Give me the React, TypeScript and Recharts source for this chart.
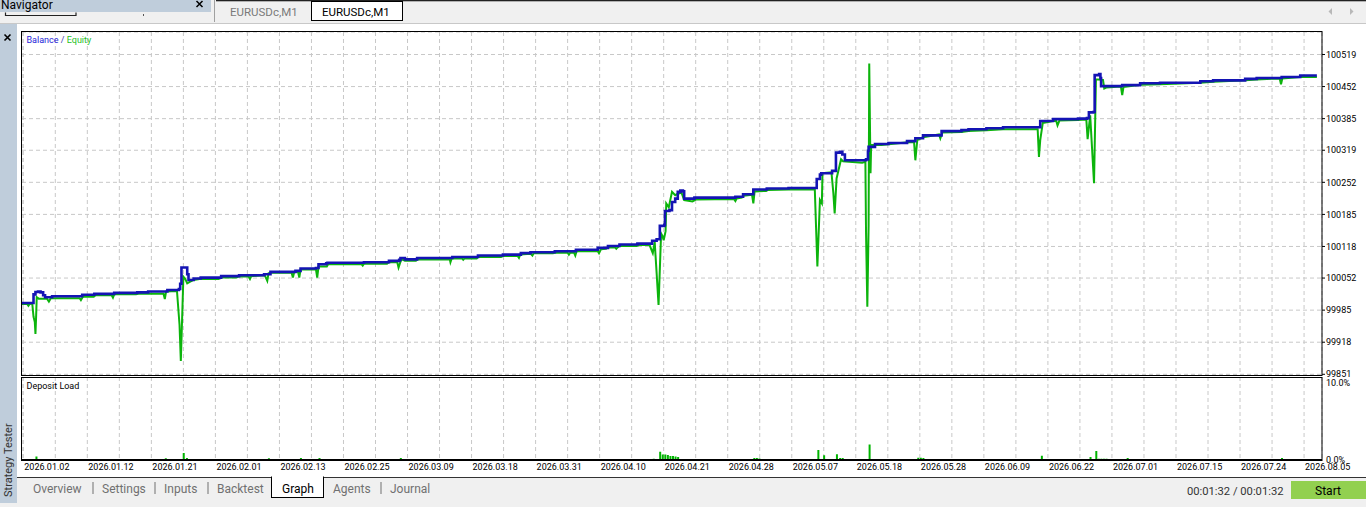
import React from 'react';
import { LineChart, Line, BarChart, Bar, XAxis, YAxis, CartesianGrid } from 'recharts';

// x values are in "date label" units: label k of the time axis sits at x = k
const dateLabels = [
  '2026.01.02', '2026.01.12', '2026.01.21', '2026.02.01', '2026.02.13', '2026.02.25', '2026.03.09',
  '2026.03.18', '2026.03.31', '2026.04.10', '2026.04.21', '2026.04.28', '2026.05.07', '2026.05.18',
  '2026.05.28', '2026.06.09', '2026.06.22', '2026.07.01', '2026.07.15', '2026.07.24', '2026.08.05',
];
const X_MIN = -0.02;
const X_MAX = 20.28;

const balanceTicks = [99851, 99918, 99985, 100052, 100118, 100185, 100252, 100319, 100385, 100452, 100519];
const balanceDomain = [99849.5, 100566];
const loadTicks = [0, 10];
const loadDomain = [0, 10.7];

const balancePts: [number, number][] = [
  [-0.02, 100000], [0.14, 100000], [0.16, 100018], [0.19, 100023], [0.23, 100024], [0.27, 100022], [0.31, 100016],
  [0.34, 100012], [0.42, 100012], [0.45, 100014], [0.89, 100014], [0.92, 100017], [1.08, 100017], [1.11, 100019],
  [1.39, 100019], [1.42, 100021], [1.75, 100021], [1.78, 100022], [1.92, 100022], [1.95, 100024], [2.22, 100024],
  [2.25, 100027], [2.40, 100027], [2.43, 100029], [2.45, 100040], [2.47, 100074], [2.54, 100074], [2.56, 100060],
  [2.58, 100048], [2.64, 100048], [2.66, 100051], [2.75, 100051], [2.77, 100053], [3.06, 100053], [3.09, 100056],
  [3.34, 100056], [3.37, 100058], [3.73, 100058], [3.76, 100060], [3.84, 100060], [3.86, 100065], [4.23, 100065],
  [4.25, 100067], [4.31, 100067], [4.33, 100072], [4.57, 100073], [4.61, 100081], [4.73, 100083], [4.75, 100084],
  [5.29, 100084], [5.32, 100085], [5.68, 100085], [5.71, 100088], [5.85, 100088], [5.87, 100090], [5.89, 100094],
  [5.93, 100094], [5.96, 100091], [6.13, 100091], [6.15, 100094], [6.67, 100094], [6.70, 100096], [7.08, 100096],
  [7.10, 100099], [7.46, 100099], [7.49, 100101], [7.74, 100101], [7.77, 100104], [7.90, 100104], [7.92, 100106],
  [8.27, 100106], [8.30, 100108], [8.60, 100108], [8.63, 100111], [8.95, 100111], [8.97, 100115], [9.10, 100115],
  [9.13, 100119], [9.28, 100119], [9.31, 100122], [9.57, 100122], [9.59, 100124], [9.79, 100124], [9.82, 100130],
  [9.89, 100133], [9.92, 100133], [9.94, 100161], [10.01, 100163], [10.02, 100192], [10.09, 100194], [10.13, 100211],
  [10.18, 100218], [10.22, 100232], [10.26, 100235], [10.30, 100233], [10.32, 100218], [10.46, 100218], [10.48, 100220],
  [11.12, 100222], [11.24, 100227], [11.40, 100237], [11.61, 100239], [11.95, 100240], [12.37, 100240], [12.39, 100259],
  [12.44, 100268], [12.46, 100271], [12.63, 100276], [12.66, 100276], [12.69, 100314], [12.75, 100316], [12.79, 100310],
  [12.83, 100298], [13.16, 100300], [13.19, 100318], [13.20, 100326], [13.30, 100332], [13.51, 100334], [13.80, 100338],
  [13.93, 100344], [14.05, 100350], [14.34, 100359], [14.65, 100361], [14.76, 100363], [15.04, 100365], [15.30, 100367],
  [15.85, 100367], [15.88, 100380], [16.08, 100384], [16.47, 100385], [16.61, 100386], [16.64, 100398], [16.71, 100399],
  [16.73, 100476], [16.80, 100478], [16.82, 100470], [16.83, 100453], [16.92, 100453], [17.16, 100455], [17.44, 100459],
  [17.75, 100460], [18.38, 100463], [18.58, 100465], [19.08, 100468], [19.26, 100470], [19.65, 100472], [19.94, 100475],
  [20.20, 100475],
];

const equityPts: [number, number][] = [
  [-0.02, 99998], [0.06, 99998], [0.08, 99994], [0.10, 99998], [0.14, 99999], [0.15, 99985], [0.16, 99971],
  [0.18, 99960], [0.19, 99935], [0.20, 99970], [0.21, 100012], [0.24, 100009], [0.37, 100009], [0.40, 100003],
  [0.43, 100010], [0.88, 100010], [0.90, 100006], [0.93, 100013], [1.10, 100013], [1.13, 100016], [1.38, 100016],
  [1.40, 100011], [1.42, 100018], [1.76, 100018], [1.79, 100019], [2.19, 100019], [2.21, 100008], [2.23, 100024],
  [2.40, 100025], [2.44, 99954], [2.46, 99879], [2.48, 99966], [2.50, 100055], [2.53, 100050], [2.56, 100041],
  [2.60, 100044], [2.66, 100048], [2.75, 100050], [3.05, 100050], [3.10, 100053], [3.33, 100053], [3.36, 100055],
  [3.52, 100055], [3.54, 100050], [3.56, 100056], [3.77, 100058], [3.81, 100046], [3.83, 100062], [3.86, 100063],
  [4.19, 100063], [4.21, 100053], [4.23, 100064], [4.29, 100065], [4.31, 100053], [4.33, 100070], [4.57, 100070],
  [4.59, 100053], [4.61, 100076], [4.74, 100076], [4.76, 100081], [5.28, 100081], [5.30, 100078], [5.32, 100082],
  [5.68, 100082], [5.71, 100085], [5.84, 100085], [5.86, 100074], [5.88, 100082], [5.90, 100090], [5.93, 100090],
  [5.96, 100088], [6.13, 100088], [6.16, 100091], [6.66, 100091], [6.67, 100085], [6.69, 100093], [6.85, 100093],
  [6.87, 100090], [6.89, 100093], [7.08, 100093], [7.10, 100096], [7.46, 100096], [7.49, 100098], [7.72, 100098],
  [7.74, 100094], [7.76, 100101], [7.92, 100103], [7.95, 100099], [7.97, 100104], [8.27, 100104], [8.30, 100105],
  [8.50, 100105], [8.52, 100101], [8.54, 100105], [8.60, 100105], [8.62, 100099], [8.64, 100108], [8.97, 100108],
  [8.99, 100104], [9.02, 100112], [9.10, 100113], [9.13, 100116], [9.24, 100116], [9.26, 100113], [9.28, 100116],
  [9.31, 100119], [9.58, 100119], [9.61, 100121], [9.78, 100121], [9.83, 100104], [9.86, 100127], [9.89, 100062],
  [9.92, 99996], [9.96, 100145], [9.98, 100140], [10.00, 100131], [10.03, 100150], [10.04, 100208], [10.08, 100200],
  [10.13, 100232], [10.18, 100225], [10.22, 100228], [10.28, 100230], [10.32, 100215], [10.45, 100212], [10.50, 100216],
  [11.10, 100217], [11.12, 100213], [11.14, 100218], [11.22, 100220], [11.25, 100224], [11.38, 100226], [11.40, 100208],
  [11.42, 100233], [11.60, 100234], [11.63, 100236], [11.95, 100237], [12.36, 100237], [12.38, 100156], [12.40, 100076],
  [12.44, 100215], [12.47, 100208], [12.48, 100271], [12.62, 100273], [12.65, 100229], [12.67, 100187], [12.70, 100260],
  [12.77, 100300], [12.80, 100296], [13.10, 100293], [13.15, 100295], [13.16, 100145], [13.18, 99992], [13.20, 100160],
  [13.21, 100500], [13.23, 100271], [13.24, 100330], [13.40, 100330], [13.55, 100332], [13.78, 100335], [13.91, 100336],
  [13.93, 100298], [13.96, 100340], [14.05, 100346], [14.30, 100352], [14.32, 100344], [14.35, 100356], [14.65, 100357],
  [14.76, 100359], [15.04, 100361], [15.30, 100363], [15.84, 100363], [15.86, 100305], [15.88, 100340], [15.92, 100376],
  [16.08, 100380], [16.13, 100380], [16.15, 100371], [16.18, 100381], [16.47, 100382], [16.60, 100383], [16.62, 100342],
  [16.66, 100392], [16.72, 100250], [16.75, 100467], [16.78, 100467], [16.86, 100466], [16.88, 100448], [16.91, 100450],
  [17.14, 100452], [17.16, 100434], [17.18, 100451], [17.44, 100456], [17.75, 100457], [18.38, 100460], [18.58, 100462],
  [19.08, 100465], [19.26, 100467], [19.62, 100469], [19.64, 100457], [19.66, 100469], [19.94, 100472], [20.20, 100472],
];

// deposit load, percent
const depositPts: [number, number][] = [
  [0.05, 0.13], [0.09, 0.13], [0.21, 0.45], [0.25, 0.13], [0.29, 0.13], [0.33, 0.13], [0.37, 0.13], [0.62, 0.13],
  [0.72, 0.13], [0.84, 0.13], [0.97, 0.13], [1.10, 0.13], [1.21, 0.13], [1.27, 0.13], [1.33, 0.13], [1.45, 0.13],
  [1.53, 0.13], [1.66, 0.13], [1.74, 0.13], [1.83, 0.13], [1.90, 0.13], [2.05, 0.13], [2.23, 0.22], [2.30, 0.13],
  [2.51, 0.9], [2.56, 0.25], [2.61, 0.13], [2.66, 0.13], [2.78, 0.13], [2.86, 0.13], [2.98, 0.13], [3.10, 0.13],
  [3.20, 0.13], [3.31, 0.13], [3.44, 0.13], [3.55, 0.13], [3.63, 0.13], [3.84, 0.22], [3.88, 0.13], [3.93, 0.13],
  [3.97, 0.13], [4.02, 0.13], [4.10, 0.13], [4.23, 0.13], [4.34, 0.25], [4.45, 0.13], [4.55, 0.13], [4.63, 0.25],
  [4.67, 0.13], [4.72, 0.13], [4.78, 0.13], [4.86, 0.13], [5.00, 0.13], [5.10, 0.13], [5.21, 0.13], [5.38, 0.13],
  [5.51, 0.13], [5.65, 0.13], [5.80, 0.13], [5.90, 0.25], [5.95, 0.13], [6.00, 0.13], [6.12, 0.13], [6.26, 0.13],
  [6.40, 0.13], [6.55, 0.13], [6.70, 0.13], [6.83, 0.13], [6.98, 0.13], [7.10, 0.13], [7.25, 0.13], [7.40, 0.13],
  [7.52, 0.13], [7.66, 0.13], [7.80, 0.13], [7.95, 0.13], [8.08, 0.13], [8.22, 0.13], [8.36, 0.13], [8.50, 0.13],
  [8.62, 0.13], [8.78, 0.13], [8.90, 0.13], [9.05, 0.13], [9.18, 0.13], [9.32, 0.13], [9.45, 0.13], [9.58, 0.13],
  [9.70, 0.13], [9.85, 0.15], [9.95, 1.05], [9.99, 0.7], [10.03, 0.7], [10.07, 0.65], [10.11, 0.5], [10.15, 0.5],
  [10.19, 0.45], [10.23, 0.4], [10.30, 0.13], [10.42, 0.13], [10.55, 0.13], [10.68, 0.13], [10.80, 0.13], [10.92, 0.13],
  [11.05, 0.13], [11.18, 0.13], [11.30, 0.13], [11.42, 0.27], [11.46, 0.27], [11.50, 0.2], [11.60, 0.13], [11.72, 0.13],
  [11.85, 0.13], [11.98, 0.13], [12.10, 0.13], [12.22, 0.13], [12.32, 0.13], [12.42, 1.3], [12.51, 0.6], [12.56, 0.13],
  [12.62, 0.13], [12.71, 0.73], [12.76, 0.25], [12.80, 0.25], [12.86, 0.13], [12.95, 0.13], [13.08, 0.13], [13.22, 2.0],
  [13.30, 0.13], [13.42, 0.13], [13.55, 0.13], [13.68, 0.13], [13.80, 0.13], [13.98, 0.3], [14.02, 0.3], [14.06, 0.25],
  [14.15, 0.13], [14.28, 0.13], [14.40, 0.13], [14.52, 0.13], [14.65, 0.13], [14.78, 0.13], [14.90, 0.13], [15.02, 0.13],
  [15.15, 0.13], [15.28, 0.13], [15.40, 0.13], [15.52, 0.13], [15.65, 0.13], [15.78, 0.13], [15.91, 0.55], [16.00, 0.13],
  [16.12, 0.13], [16.25, 0.13], [16.38, 0.13], [16.50, 0.13], [16.67, 0.4], [16.76, 1.15], [16.80, 0.15], [16.84, 0.15],
  [16.88, 0.15], [16.92, 0.15], [17.05, 0.13], [17.25, 0.27], [17.38, 0.13], [17.50, 0.13], [17.62, 0.13], [17.75, 0.13],
  [17.88, 0.13], [18.00, 0.13], [18.12, 0.13], [18.25, 0.13], [18.40, 0.13], [18.52, 0.13], [18.65, 0.13], [18.78, 0.13],
  [18.90, 0.13], [19.02, 0.13], [19.15, 0.13], [19.28, 0.13], [19.40, 0.13], [19.52, 0.13], [19.66, 0.25], [19.78, 0.13],
  [19.90, 0.13], [20.02, 0.13], [20.15, 0.13], [20.25, 0.13],
];

const bottomTabs = ['Overview', 'Settings', 'Inputs', 'Backtest', 'Graph', 'Agents', 'Journal'];

const balanceData = balancePts.map(([x, v]) => ({ x, v }));
const equityData = equityPts.map(([x, v]) => ({ x, v }));
const depositData = depositPts.map(([x, v]) => ({ x, v }));
const dateTicks = dateLabels.map((_, i) => i);
const gridTicks = dateTicks.flatMap((i) => (i < dateLabels.length - 1 ? [i, i + 0.5] : [i]));

const FONT = 'Roboto, "Noto Sans", sans-serif';
const GRID = '#c8c8c8';

const DateTick = (props: any) => {
  const { x, y, payload } = props;
  const v = payload.value;
  if (!Number.isInteger(v) || !dateLabels[v]) return <g />;
  return (
    <text x={x + 1} y={y} dy="0.71em" textAnchor="start" fontSize={9} fontFamily={FONT} fill="#000">
      {dateLabels[v]}
    </text>
  );
};

const tabX = [33, 102, 164, 217, 282, 333, 390];
const sepX = [92.5, 154.5, 207.5, 380.5];

export default function App() {
  return (
    <div style={{ position: 'absolute', left: 0, top: 0, width: 1366, height: 507, overflow: 'hidden', background: '#f0f0f0', fontFamily: FONT }}>
      {/* window chrome */}
      <svg style={{ position: 'absolute', left: 0, top: 0 }} width={1366} height={507}>
        <rect x={0} y={0} width={1366} height={507} fill="#f0f0f0" />
        {/* navigator title */}
        <rect x={0} y={0} width={211} height={12} fill="#bfcddb" />
        <text x={1} y={8.5} fontSize={12} fontFamily={FONT} fill="#000">Navigator</text>
        <path d="M196.5 1 L202.5 7 M202.5 1 L196.5 7" stroke="#000" strokeWidth={1.5} />
        <path d="M5.5 12.5 L5.5 15.5 L76 15.5 L76 12.5" stroke="#222" strokeWidth={1.2} fill="none" />
        <rect x={143} y={14} width={1} height={2} fill="#555" />
        {/* tab strip */}
        <rect x={214} y={0} width={1} height={22} fill="#a0a0a0" />
        <rect x={216} y={0} width={1150} height={1.3} fill="#222" />
        <text x={230} y={16} fontSize={11.5} fontFamily={FONT} fill="#7a7a7a">EURUSDc,M1</text>
        <rect x={311.5} y={1.5} width={91} height={19} fill="#fff" stroke="#000" strokeWidth={1} />
        <text x={322} y={15.5} fontSize={11.5} fontFamily={FONT} fill="#000">EURUSDc,M1</text>
        <polygon points="1332,8 1332,15 1328.5,11.5" fill="#b8b8b8" />
        <polygon points="1350,8 1350,15 1353.5,11.5" fill="#b8b8b8" />
        <rect x={0} y={23} width={1366} height={1} fill="#c8c8c8" />
        {/* left side bar */}
        <rect x={0} y={24} width={17} height={479} fill="#bfcddb" />
        <path d="M4.5 34.5 L10.5 40.5 M10.5 34.5 L4.5 40.5" stroke="#000" strokeWidth={1.6} />
        <text transform="translate(12,497) rotate(-90)" fontSize={11} fontFamily={FONT} fill="#333">Strategy Tester</text>
        {/* white chart area */}
        <rect x={17} y={24} width={1349} height={453} fill="#fff" />
        {/* bottom tab bar */}
        <rect x={17} y={477} width={1349} height={1} fill="#333" />
        <rect x={271.5} y={477} width={52} height={20.5} fill="#fff" stroke="#000" strokeWidth={1} />
        <rect x={272} y={476} width={51} height={2} fill="#fff" />
        {bottomTabs.map((t, i) => (
          <text key={t} x={tabX[i]} y={492.5} fontSize={12} fontFamily={FONT} fill={t === 'Graph' ? '#000' : '#707070'}>{t}</text>
        ))}
        {sepX.map((x) => (
          <rect key={x} x={x} y={482} width={1} height={12} fill="#707070" />
        ))}
        <text x={1187} y={494.5} fontSize={11.2} fontFamily={FONT} fill="#333">00:01:32 / 00:01:32</text>
        <rect x={1291} y={481} width={75} height={18} fill="#92d050" />
        <text x={1328} y={494.5} fontSize={12} fontFamily={FONT} fill="#000" textAnchor="middle">Start</text>
      </svg>

      {/* Balance / Equity */}
      <div style={{ position: 'absolute', left: 0, top: 0, width: 1366, height: 377, overflow: 'hidden' }}>
        <LineChart width={1366} height={377} margin={{ top: 32, right: 0, left: 22, bottom: 2 }}>
          <CartesianGrid stroke={GRID} strokeDasharray="4 3" />
          <XAxis type="number" dataKey="x" domain={[X_MIN, X_MAX]} ticks={gridTicks} interval={0} hide allowDataOverflow />
          <YAxis
            orientation="right"
            type="number"
            domain={balanceDomain}
            ticks={balanceTicks}
            interval={0}
            width={44}
            axisLine={false}
            tickLine={{ stroke: '#000' }}
            tickSize={3}
            tickMargin={1}
            tick={{ fontSize: 9, fill: '#000', fontFamily: FONT }}
            allowDataOverflow
          />
          <Line data={equityData} dataKey="v" type="linear" stroke="#0cb40c" strokeWidth={2} dot={false} activeDot={false} isAnimationActive={false} />
          <Line data={balanceData} dataKey="v" type="stepAfter" stroke="#1414b4" strokeWidth={2.6} dot={false} activeDot={false} isAnimationActive={false} />
        </LineChart>
      </div>

      {/* Deposit load */}
      <div style={{ position: 'absolute', left: 0, top: 376, width: 1366, height: 102 }}>
        <BarChart width={1366} height={102} data={depositData} margin={{ top: 1, right: 0, left: 22, bottom: 0 }}>
          <CartesianGrid stroke={GRID} strokeDasharray="4 3" horizontal={false} />
          <XAxis
            type="number"
            dataKey="x"
            domain={[X_MIN, X_MAX]}
            ticks={gridTicks}
            interval={0}
            height={18}
            axisLine={{ stroke: '#000', strokeWidth: 2 }}
            tickLine={false}
            tickSize={0}
            tickMargin={4}
            tick={<DateTick />}
            allowDataOverflow
          />
          <YAxis
            orientation="right"
            type="number"
            domain={loadDomain}
            ticks={loadTicks}
            interval={0}
            width={44}
            axisLine={false}
            tickLine={false}
            tickSize={3}
            tickMargin={1}
            tickFormatter={(v: number) => v.toFixed(1) + '%'}
            tick={{ fontSize: 9, fill: '#000', fontFamily: FONT }}
          />
          <Bar dataKey="v" fill="#00b400" barSize={2} isAnimationActive={false} />
        </BarChart>
      </div>

      {/* frames and panel titles */}
      <svg style={{ position: 'absolute', left: 0, top: 0, pointerEvents: 'none' }} width={1366} height={507}>
        <rect x={21.5} y={31.5} width={1300.5} height={344} fill="none" stroke="#000" strokeWidth={1} />
        <rect x={21.5} y={377.5} width={1300.5} height={83} fill="none" stroke="#000" strokeWidth={1} />
        <text x={26.5} y={42.5} fontSize={9} fontFamily={FONT}>
          <tspan fill="#2424d8">Balance</tspan>
          <tspan fill="#3a3ab0"> / </tspan>
          <tspan fill="#1fbf1f">Equity</tspan>
        </text>
        <text x={26.5} y={389} fontSize={9} fontFamily={FONT} fill="#000">Deposit Load</text>
      </svg>
    </div>
  );
}
